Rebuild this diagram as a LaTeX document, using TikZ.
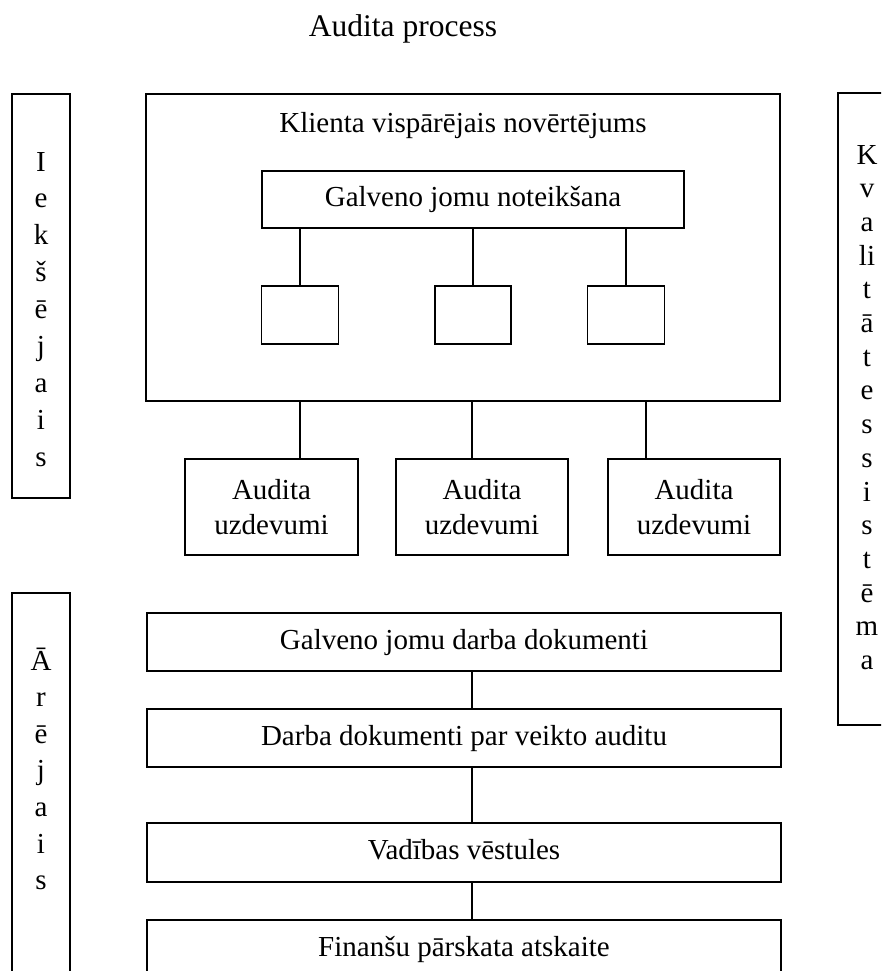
\documentclass[tikz,border=0pt]{standalone}
\usepackage{fontspec}
\setmainfont{Liberation Serif}
\begin{document}
\begin{tikzpicture}[x=1pt,y=-1pt,
  box/.style={draw, line width=1.7pt, inner sep=0pt, align=center},
  onebox/.style={box, text height=20pt, text depth=6pt},
  txt/.style={inner sep=0pt, anchor=base},
  ln/.style={line width=1.7pt},
  font=\fontsize{29}{35}\selectfont]
\useasboundingbox (0,0) rectangle (881,971);
\fill[white] (0,0) rectangle (881,971);
\clip (0,0) rectangle (881,971);

% title
\node[txt, font=\fontsize{31.5}{36}\selectfont] (title) at (403,37) {Audita process};

% side boxes
\node[box, minimum width=58pt, minimum height=404pt] (lb1) at (41,296) {};
\node[box, minimum width=58pt, minimum height=417pt] (lb2) at (41,801.5) {};
\node[box, minimum width=58pt, minimum height=632pt] (rb) at (867,409) {};
\foreach \ch [count=\i from 0] in {I,e,k,š,ē,j,a,i,s}
  \node[txt] (la\i) at (41,{171+36.9*\i}) {\ch};
\foreach \ch [count=\i from 0] in {Ā,r,ē,j,a,i,s}
  \node[txt] (lc\i) at (41,{670+36.6*\i}) {\ch};
\foreach \ch [count=\i from 0] in {K,v,a,li,t,ā,t,e,s,s,i,s,t,ē,m,a}
  \node[txt] (ra\i) at (867,{164+33.7*\i}) {\ch};

% big box
\node[box, minimum width=634pt, minimum height=307pt] (big) at (463,247.5) {};
\node[txt] (klienta) at (463,132) {Klienta vispārējais novērtējums};
\node[onebox, minimum width=422pt, minimum height=57pt] (gjn) at (473,199.5) {Galveno jomu noteikšana};
\node[box, minimum width=77pt, minimum height=58pt] (s1) at (300,315) {};
\node[box, minimum width=76pt, minimum height=58pt] (s2) at (473,315) {};
\node[box, minimum width=77pt, minimum height=58pt] (s3) at (626,315) {};
\draw[ln] (s1.north) -- (s1.north |- gjn.south);
\draw[ln] (s2.north) -- (s2.north |- gjn.south);
\draw[ln] (s3.north) -- (s3.north |- gjn.south);

% audit tasks
\node[box, minimum width=173pt, minimum height=96pt] (a1) at (271.5,507) {Audita\\uzdevumi};
\node[box, minimum width=172pt, minimum height=96pt] (a2) at (482,507) {Audita\\uzdevumi};
\node[box, minimum width=172pt, minimum height=96pt] (a3) at (694,507) {Audita\\uzdevumi};
\coordinate (c1) at (300,0);
\coordinate (c2) at (472,0);
\coordinate (c3) at (646,0);
\draw[ln] (big.south -| c1) -- (a1.north -| c1);
\draw[ln] (big.south -| c2) -- (a2.north -| c2);
\draw[ln] (big.south -| c3) -- (a3.north -| c3);

% lower chain
\node[onebox, minimum width=634pt, minimum height=58pt] (d1) at (464,642) {Galveno jomu darba dokumenti};
\node[onebox, minimum width=634pt, minimum height=58pt] (d2) at (464,738) {Darba dokumenti par veikto auditu};
\node[onebox, minimum width=634pt, minimum height=59pt] (d3) at (464,852.5) {Vadības vēstules};
\node[onebox, minimum width=634pt, minimum height=58pt] (d4) at (464,949) {Finanšu pārskata atskaite};
\coordinate (c4) at (472,0);
\draw[ln] (d1.south -| c4) -- (d2.north -| c4);
\draw[ln] (d2.south -| c4) -- (d3.north -| c4);
\draw[ln] (d3.south -| c4) -- (d4.north -| c4);
\end{tikzpicture}
\end{document}
